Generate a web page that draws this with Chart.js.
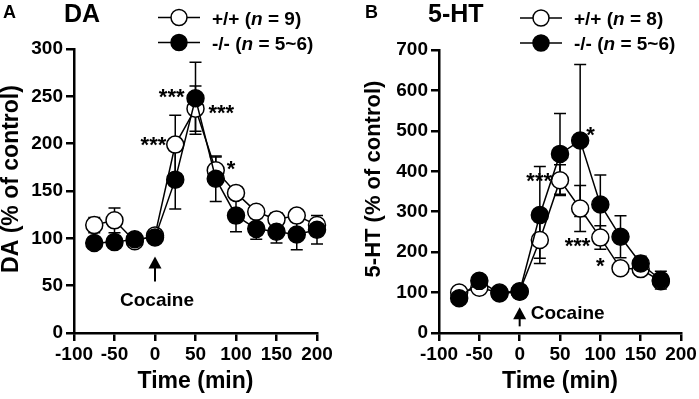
<!DOCTYPE html>
<html><head><meta charset="utf-8">
<script src="https://cdn.jsdelivr.net/npm/chart.js@4"></script>
<style>
html,body{margin:0;padding:0;background:#fff;}
#wrap{position:relative;width:699px;height:399px;overflow:hidden;background:#fff;}
canvas{position:absolute;top:0;}
#cA{left:0;width:350px;height:399px;}
#cB{left:350px;width:349px;height:399px;}
</style></head><body>
<div id="wrap"><canvas id="cA" width="350" height="399"></canvas><canvas id="cB" width="349" height="399"></canvas></div>
<script>
const FONT = '"Liberation Sans", Arial, Helvetica, sans-serif';

// ---- Panel A: DA ----
const timeA = [-75, -50, -25, 0, 25, 50, 75, 100, 125, 150, 175, 200];
const daWT = [114, 119, 97, 103, 199, 237, 172, 148, 128, 120, 124, 114];
const daWTErr = [8, 13, 4, 4, 31, 24, 14, 6, 5, 7, 5, 6];
const daKO = [95, 96, 99, 101, 162, 248, 163, 124, 110, 107, 104, 109];
const daKOErr = [6, 6, 4, 4, 31, 38, 24, 17, 11, 12, 16, 15];
const daTicks = [0, 50, 100, 150, 200, 250, 300];
const legendA = ['+/+ (n = 9)', '-/- (n = 5~6)'];

// ---- Panel B: 5-HT ----
const timeB = [-75, -50, -25, 0, 25, 50, 75, 100, 125, 150, 175];
const htWT = [100, 112, 100, 103, 230, 378, 308, 236, 160, 158, 128];
const htWTErr = [5, 5, 5, 5, 45, 38, 57, 29, 10, 10, 10];
const htKO = [86, 129, 98, 102, 292, 443, 476, 318, 238, 172, 131];
const htKOErr = [10, 10, 5, 5, 120, 100, 188, 73, 52, 18, 22];
const htTicks = [0, 100, 200, 300, 400, 500, 600, 700];
const legendB = ['+/+ (n = 8)', '-/- (n = 5~6)'];

const xTicks = [-100, -50, 0, 50, 100, 150, 200];

// significance marks: series 0 = +/+, 1 = -/-
const starsA = [
  {s: 0, i: 4, t: '***', side: 'left', dx: 9, dy: -5},
  {s: 1, i: 5, t: '***', side: 'left', dx: 11, dy: -6},
  {s: 0, i: 5, t: '***', side: 'right', dx: 13, dy: -1},
  {s: 0, i: 6, t: '*', side: 'right', dx: 11, dy: -6}
];
const starsB = [
  {s: 0, i: 5, t: '***', side: 'left', dx: 8, dy: -4},
  {s: 1, i: 6, t: '*', side: 'right', dx: 6, dy: -11},
  {s: 0, i: 7, t: '***', side: 'left', dx: 10, dy: 3},
  {s: 0, i: 7, t: '*', side: 'center', dx: 0, dy: 23}
];

function series(times, vals) { return times.map((t, i) => ({x: t, y: vals[i]})); }

const errorBars = {
  id: 'errorBars',
  beforeDatasetsDraw(chart) {
    const {ctx} = chart, x = chart.scales.x, y = chart.scales.y;
    ctx.save();
    ctx.strokeStyle = '#000';
    ctx.lineWidth = 1.5;
    chart.data.datasets.forEach(ds => {
      ds.data.forEach((p, i) => {
        const e = ds.errors[i];
        const px = x.getPixelForValue(p.x);
        const yt = y.getPixelForValue(p.y + e), yb = y.getPixelForValue(p.y - e);
        ctx.beginPath();
        ctx.moveTo(px, yt); ctx.lineTo(px, yb);
        ctx.moveTo(px - 6, yt); ctx.lineTo(px + 6, yt);
        ctx.moveTo(px - 6, yb); ctx.lineTo(px + 6, yb);
        ctx.stroke();
      });
    });
    ctx.restore();
  }
};

function makeDecor(o) {
  return {
    id: 'decor',
    afterDraw(chart) {
      const {ctx} = chart, x = chart.scales.x, y = chart.scales.y;
      ctx.save();
      ctx.fillStyle = '#000';
      ctx.strokeStyle = '#000';
      // y axis title
      ctx.save();
      ctx.translate(o.yTitleX, o.yTitleY);
      ctx.rotate(-Math.PI / 2);
      ctx.textAlign = 'center';
      ctx.textBaseline = 'middle';
      ctx.font = 'bold ' + o.yTitleSize + 'px ' + FONT;
      ctx.fillText(o.yTitle, 0, 0);
      ctx.restore();
      // panel letter and title
      ctx.textBaseline = 'alphabetic';
      ctx.textAlign = 'left';
      ctx.font = 'bold 18px ' + FONT;
      ctx.fillText(o.letter, o.letterX, 18);
      ctx.font = 'bold 25px ' + FONT;
      ctx.fillText(o.title, o.titleX, 22);
      // legend
      o.legend.forEach((lab, k) => {
        const cy = o.legY[k];
        ctx.lineWidth = 1.5;
        ctx.beginPath(); ctx.moveTo(o.legX1, cy); ctx.lineTo(o.legX2, cy); ctx.stroke();
        ctx.beginPath(); ctx.arc((o.legX1 + o.legX2) / 2, cy, 8, 0, Math.PI * 2);
        ctx.fillStyle = k === 0 ? '#fff' : '#000';
        ctx.fill(); ctx.stroke();
        ctx.fillStyle = '#000';
        let tx = o.legTX;
        lab.split(/\b(n)\b/).forEach(part => {
          ctx.font = (part === 'n' ? 'italic bold 19px ' : 'bold 19px ') + FONT;
          ctx.fillText(part, tx, cy + 7);
          tx += ctx.measureText(part).width;
        });
      });
      // cocaine arrow
      const ax = x.getPixelForValue(0);
      const i0 = o.times.indexOf(0);
      const base = y.getPixelForValue(Math.max(o.wt[i0], o.ko[i0]));
      const tip = base + o.arrowGap, bot = tip + o.arrowLen;
      ctx.lineWidth = 2;
      ctx.beginPath(); ctx.moveTo(ax, tip + 8); ctx.lineTo(ax, bot); ctx.stroke();
      ctx.beginPath(); ctx.moveTo(ax, tip); ctx.lineTo(ax - 6.5, tip + 12); ctx.lineTo(ax + 6.5, tip + 12); ctx.closePath(); ctx.fill();
      ctx.font = 'bold 19px ' + FONT;
      if (o.cocaineSide === 'below') {
        ctx.textAlign = 'center';
        ctx.fillText('Cocaine', ax + 2, bot + 25);
      } else {
        ctx.textAlign = 'left';
        ctx.fillText('Cocaine', ax + 11, tip + 12);
      }
      // stars
      ctx.font = 'bold 22px ' + FONT;
      const vals = [o.wt, o.ko];
      o.stars.forEach(st => {
        const px = x.getPixelForValue(o.times[st.i]);
        const py = y.getPixelForValue(vals[st.s][st.i]);
        let tx = px;
        if (st.side === 'left') { ctx.textAlign = 'right'; tx = px - st.dx; }
        else if (st.side === 'right') { ctx.textAlign = 'left'; tx = px + st.dx; }
        else { ctx.textAlign = 'center'; }
        ctx.fillText(st.t, tx, py + st.dy + 12);
      });
      ctx.restore();
    }
  };
}

function makePanel(id, o) {
  const common = {borderColor: '#000', borderWidth: 1.5, pointBorderColor: '#000', pointBorderWidth: 1.5,
    pointRadius: 8.5, pointHoverRadius: 8.5, tension: 0, clip: false, fill: false};
  const tickFont = {family: FONT, size: 19, weight: 'bold'};
  const titleFont = {family: FONT, size: 23, weight: 'bold', lineHeight: 1};
  return new Chart(document.getElementById(id), {
    type: 'line',
    data: {datasets: [
      Object.assign({}, common, {label: o.legend[0], data: series(o.times, o.wt), errors: o.wtErr, pointBackgroundColor: '#fff', backgroundColor: '#fff', order: 2}),
      Object.assign({}, common, {label: o.legend[1], data: series(o.times, o.ko), errors: o.koErr, pointBackgroundColor: '#000', backgroundColor: '#000', order: 1})
    ]},
    options: {
      responsive: false, animation: false, events: [],
      layout: {padding: {left: 0, top: o.padTop, right: o.padRight, bottom: 0}},
      plugins: {legend: {display: false}, tooltip: {enabled: false}},
      scales: {
        x: {type: 'linear', min: -100, max: 200,
          afterBuildTicks: s => { s.ticks = xTicks.map(v => ({value: v})); },
          afterFit: s => { s.height = 66; },
          ticks: {font: tickFont, color: '#000', padding: 2, maxRotation: 0, autoSkip: false},
          grid: {drawOnChartArea: false, color: '#000', lineWidth: 2.5, tickLength: 8},
          border: {color: '#000', width: 2.5},
          title: {display: true, text: 'Time (min)', font: titleFont, color: '#000', padding: {top: 0, bottom: 5.5}}},
        y: {type: 'linear', min: 0, max: o.yMax,
          afterBuildTicks: s => { s.ticks = o.yTicks.map(v => ({value: v})); },
          afterFit: s => { s.width = o.yWidth; },
          ticks: {font: tickFont, color: '#000', padding: 3, autoSkip: false},
          grid: {drawOnChartArea: false, color: '#000', lineWidth: 2.5, tickLength: 8},
          border: {color: '#000', width: 2.5},
          title: {display: false}}
      }
    },
    plugins: [errorBars, makeDecor(o)]
  });
}

makePanel('cA', {
  times: timeA, wt: daWT, wtErr: daWTErr, ko: daKO, koErr: daKOErr,
  yMax: 300, yTicks: daTicks, yTitle: 'DA (% of control)', yTitleX: 12, yTitleY: 179, yTitleSize: 23, yWidth: 74,
  padTop: 49, padRight: 33,
  letter: 'A', letterX: 3, title: 'DA', titleX: 64,
  legend: legendA, legY: [17.5, 42.5], legX1: 158, legX2: 200, legTX: 212,
  stars: starsA, arrowGap: 21, arrowLen: 25, cocaineSide: 'below'
});
makePanel('cB', {
  times: timeB, wt: htWT, wtErr: htWTErr, ko: htKO, koErr: htKOErr,
  yMax: 700, yTicks: htTicks, yTitle: '5-HT (% of control)', yTitleX: 24, yTitleY: 179, yTitleSize: 22, yWidth: 89,
  padTop: 50, padRight: 18,
  letter: 'B', letterX: 15, title: '5-HT', titleX: 78,
  legend: legendB, legY: [18, 43], legX1: 170, legX2: 212, legTX: 224,
  stars: starsB, arrowGap: 16, arrowLen: 19, cocaineSide: 'right'
});
</script>
</body></html>
